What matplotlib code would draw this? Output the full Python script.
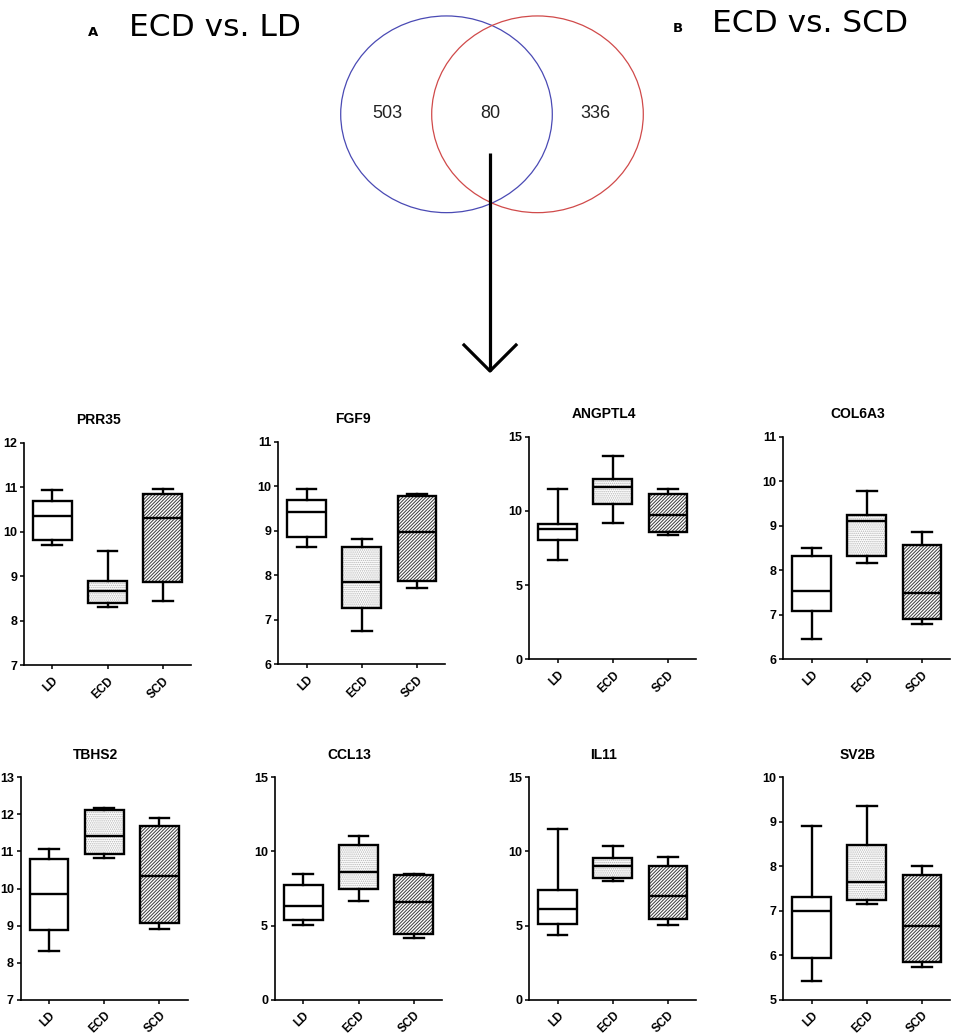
import numpy as np
import matplotlib
matplotlib.use("Agg")
import matplotlib.pyplot as plt
from matplotlib.patches import Ellipse, PathPatch

plt.rcParams['font.family'] = ['Liberation Sans', 'DejaVu Sans']

# venn diagram counts: ECD vs. LD only, shared, ECD vs. SCD only
venn_counts = [503, 80, 336]
venn_titles = ['ECD vs. LD', 'ECD vs. SCD']

genes = ['PRR35', 'FGF9', 'ANGPTL4', 'COL6A3', 'TBHS2', 'CCL13', 'IL11', 'SV2B']
groups = ['LD', 'ECD', 'SCD']

# box stats per gene, one value per group (LD, ECD, SCD)
whislo = [[9.69, 8.30, 8.44], [8.63, 6.75, 7.72], [6.66, 9.18, 8.34], [6.45, 8.17, 6.80],
          [8.32, 10.82, 8.90], [5.01, 6.67, 4.15], [4.38, 8.00, 5.03], [5.43, 7.16, 5.74]]
q1 = [[9.81, 8.39, 8.86], [8.86, 7.26, 7.87], [8.05, 10.44, 8.59], [7.08, 8.32, 6.90],
      [8.89, 10.92, 9.08], [5.39, 7.45, 4.45], [5.14, 8.22, 5.48], [5.93, 7.25, 5.84]]
med = [[10.35, 8.67, 10.31], [9.42, 7.85, 8.98], [8.79, 11.58, 9.69], [7.53, 9.10, 7.48],
       [9.86, 11.42, 10.35], [6.35, 8.64, 6.58], [6.11, 9.05, 6.97], [6.99, 7.64, 6.65]]
q3 = [[10.69, 8.89, 10.84], [9.70, 8.63, 9.79], [9.09, 12.12, 11.11], [8.31, 9.25, 8.57],
      [10.80, 12.13, 11.70], [7.75, 10.42, 8.38], [7.39, 9.59, 9.01], [7.31, 8.47, 7.80]]
whishi = [[10.93, 9.57, 10.95], [9.93, 8.81, 9.83], [11.45, 13.70, 11.45], [8.50, 9.79, 8.86],
          [11.06, 12.17, 11.89], [8.47, 11.07, 8.49], [11.52, 10.40, 9.66], [8.91, 9.35, 8.01]]

yticks = [range(7, 13), range(6, 12), [0, 5, 10, 15], range(6, 12),
          range(7, 14), [0, 5, 10, 15], [0, 5, 10, 15], range(5, 11)]

W, H = 957, 1035
fig = plt.figure(figsize=(W / 100, H / 100), dpi=100)

# ---- top part: venn + arrow, drawn in pixel coords
vax = fig.add_axes([0, 0, 1, 1])
vax.set_xlim(0, W)
vax.set_ylim(H, 0)
vax.axis('off')
vax.add_patch(Ellipse((446.5, 114.3), 211.6, 196.7, fill=False, edgecolor='#4a4ab4', lw=0.9))
vax.add_patch(Ellipse((537.5, 114.3), 211.6, 196.7, fill=False, edgecolor='#d04a4a', lw=0.9))
for xx, n in zip([387.7, 490, 595.3], venn_counts):
    vax.text(xx, 113.5, str(n), ha='center', va='center', fontsize=13, color='#222222')
vax.text(93, 33, 'A', ha='center', va='center', fontsize=9.5, fontweight='bold',
         family='DejaVu Sans')
vax.text(129, 27.5, venn_titles[0], ha='left', va='center', fontsize=22.5,
         family='DejaVu Sans')
vax.text(677.5, 28, 'B', ha='center', va='center', fontsize=9.5, fontweight='bold',
         family='DejaVu Sans')
vax.text(712, 24, venn_titles[1], ha='left', va='center', fontsize=22.5,
         family='DejaVu Sans')
vax.plot([490, 490], [153, 371], color='black', lw=2.3, solid_capstyle='butt')
vax.plot([464, 490, 516], [345, 371, 345], color='black', lw=2.3)

# ---- box plots
lefts = [24, 278.3, 529.3, 783.3, 20.7, 275, 529.3, 783.3]
tops = [442.7, 441.7, 436.7, 436.7, 777.3, 777.3, 777.3, 777.3]
axw, axh = 167, 222.5

plt.rcParams['hatch.linewidth'] = 0.7
fills = [(None, None), ('........', '#b4b4b4'), ('/' * 10, '#3a3a3a')]

for k, g in enumerate(genes):
    ax = fig.add_axes([lefts[k] / W, 1 - (tops[k] + axh) / H, axw / W, axh / H])
    stats = []
    for j in range(3):
        stats.append(dict(whislo=whislo[k][j], q1=q1[k][j], med=med[k][j],
                          q3=q3[k][j], whishi=whishi[k][j], label=groups[j]))
    bp = ax.bxp(stats, positions=[1, 2, 3], widths=0.7, capwidths=0.36,
                showfliers=False, patch_artist=True,
                boxprops=dict(facecolor='none', edgecolor='black', lw=1.7),
                whiskerprops=dict(color='black', lw=1.7),
                capprops=dict(color='black', lw=1.7),
                medianprops=dict(color='black', lw=1.7))
    for j, box in enumerate(bp['boxes']):
        box.set_zorder(3)
        hatch, hc = fills[j]
        if hatch:
            ax.add_patch(PathPatch(box.get_path(), facecolor='white', edgecolor=hc,
                                   hatch=hatch, lw=0, zorder=1.5))
    for ln in bp['medians']:
        ln.set_zorder(4)

    yt = list(yticks[k])
    ax.set_ylim(yt[0], yt[-1])
    ax.set_yticks(yt)
    ax.set_yticklabels([str(v) for v in yt], fontsize=9, fontweight='bold')
    ax.set_xlim(0.49, 3.51)
    ax.set_xticks([1, 2, 3])
    ax.set_xticklabels(groups, rotation=45, ha='right', va='top',
                       rotation_mode='anchor', fontsize=8.5, fontweight='bold')
    ax.tick_params(direction='out', length=3, width=1.1, pad=2)
    ax.tick_params(axis='x', pad=4)
    ax.spines['top'].set_visible(False)
    ax.spines['right'].set_visible(False)
    ax.spines['left'].set_linewidth(1.2)
    ax.spines['bottom'].set_linewidth(1.2)
    ax.patch.set_alpha(0)
    ax.text(0.446, 1.10, g, transform=ax.transAxes, ha='center', va='center',
            fontsize=10, fontweight='bold')

fig.savefig('out.png', dpi=100)
